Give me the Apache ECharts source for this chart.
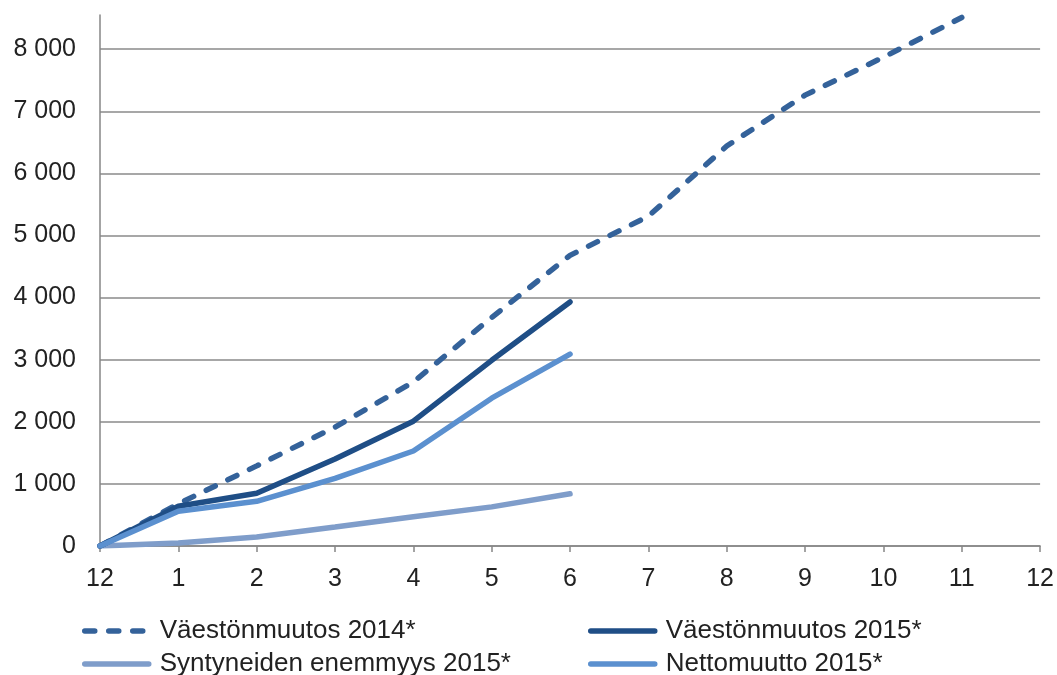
<!DOCTYPE html>
<html><head><meta charset="utf-8">
<script src="https://cdn.jsdelivr.net/npm/echarts@6/dist/echarts.min.js"></script>
<style>html,body{margin:0;padding:0;background:#fff}#c{width:1057px;height:675px}</style>
</head><body><div id="c"></div>
<script>
const categories = ['12','1','2','3','4','5','6','7','8','9','10','11','12'];
const vaesto2014 = [0, 680, 1290, 1915, 2640, 3680, 4680, 5310, 6440, 7260, 7870, 8510, null];
const vaesto2015 = [0, 640, 850, 1400, 2010, 2990, 3930];
const syntyneet2015 = [0, 50, 145, 305, 470, 630, 840];
const netto2015 = [0, 560, 720, 1090, 1530, 2380, 3090];
const names = ['Väestönmuutos 2014*', 'Väestönmuutos 2015*', 'Syntyneiden enemmyys 2015*', 'Nettomuutto 2015*'];
const colors = ['#34629a', '#1f4e86', '#7f9dca', '#5b90cf'];

const chart = echarts.init(document.getElementById('c'));
const font = 'Liberation Sans, Arial, sans-serif';
function leg(i, left, top){
  return {data:[names[i]], left:left, top:top, itemWidth:64, itemHeight:12, padding:0,
    itemStyle:{opacity:0},
    lineStyle:{width:5.5},
    textStyle:{fontFamily:font, fontSize:26, color:'#222', padding:[0,0,0,6]}};
}
const gridColors = ['#8a8a8a','#8a8a8a','#8a8a8a','#8a8a8a','#8a8a8a','#8a8a8a','#8a8a8a','#8a8a8a','#8a8a8a','rgba(0,0,0,0)'];
chart.setOption({
  animation:false,
  color: colors,
  grid:{left:100, right:15, top:15, bottom:129, containLabel:false},
  legend:[leg(0,82,618), leg(1,588,618), leg(2,82,651), leg(3,588,651)],
  xAxis:{type:'category', data:categories, boundaryGap:false,
    axisLine:{lineStyle:{color:'#868686', width:1.5}},
    axisTick:{show:true, length:6, lineStyle:{color:'#868686', width:1.5}},
    axisLabel:{fontFamily:font, fontSize:25, color:'#222', margin:21}},
  yAxis:{type:'value', min:0, max:8550, interval:1000,
    axisLine:{show:true, lineStyle:{color:'#868686', width:1.5}},
    axisTick:{show:false},
    splitLine:{lineStyle:{color:gridColors, width:1.5}},
    axisLabel:{fontFamily:font, fontSize:25, color:'#222', margin:24,
      formatter:function(v){ if(v%1000!==0) return ''; return v===0?'0':(Math.floor(v/1000)+' 000'); }}},
  series:[
    {name:names[0], type:'line', data:vaesto2014, symbol:'none', smooth:false,
      lineStyle:{width:5.5, type:[10,14], cap:'round', color:colors[0]}, z:3},
    {name:names[1], type:'line', data:vaesto2015, symbol:'none',
      lineStyle:{width:5.5, color:colors[1], cap:'round'}, z:4},
    {name:names[2], type:'line', data:syntyneet2015, symbol:'none',
      lineStyle:{width:5.5, color:colors[2], cap:'round'}, z:2},
    {name:names[3], type:'line', data:netto2015, symbol:'none',
      lineStyle:{width:5.5, color:colors[3], cap:'round'}, z:5}
  ]
});
</script></body></html>
